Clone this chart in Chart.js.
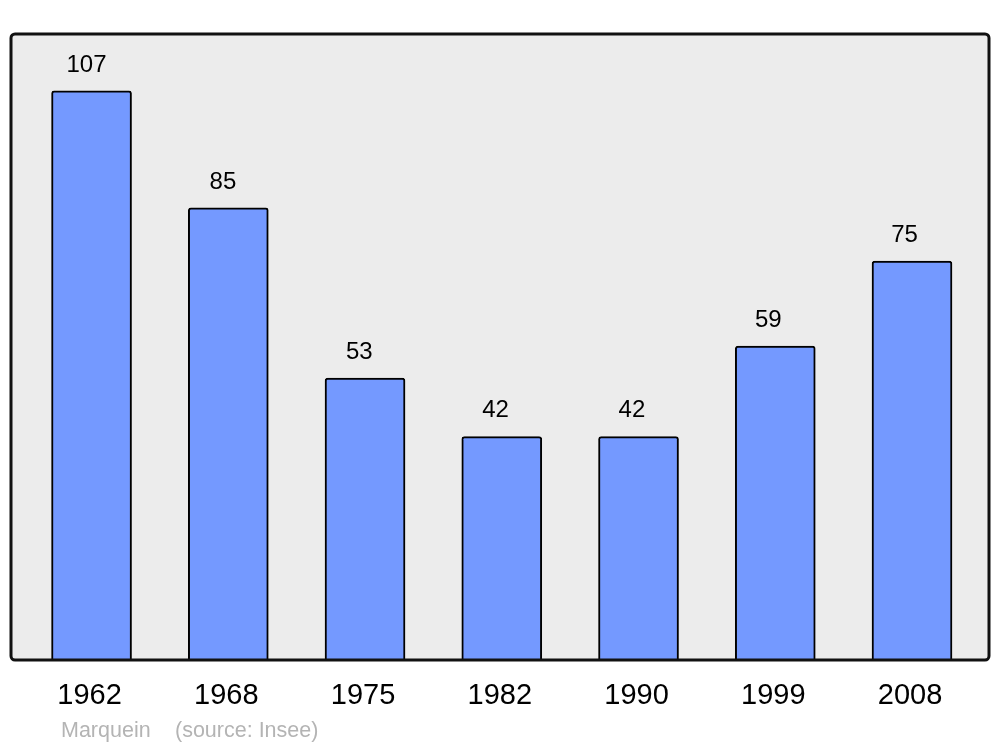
<!DOCTYPE html>
<html lang="fr">
<head>
    <meta charset="UTF-8">
    <title>Marquein - population</title>
    <script src="https://cdn.jsdelivr.net/npm/chart.js"></script>
    <style>
        body { margin: 0; background: #fff; }
        canvas { display: block; }
    </style>
</head>
<body>
    <canvas id="popChart" width="1000" height="747"></canvas>

    <script>
        // données (recensements Insee)
        const years = ['1962', '1968', '1975', '1982', '1990', '1999', '2008'];
        const population = [107, 85, 53, 42, 42, 59, 75];
        const commune = 'Marquein';
        const source = '(source: Insee)';

        // fond gris + cadre arrondi derrière les barres
        const frame = {
            id: 'frame',
            beforeDatasetsDraw(chart) {
                const { ctx, chartArea: a } = chart;
                ctx.save();
                ctx.beginPath();
                ctx.roundRect(a.left, a.top, a.right - a.left, a.bottom - a.top, 4);
                ctx.fillStyle = '#ececec';
                ctx.fill();
                ctx.restore();
            },
            afterDatasetsDraw(chart) {
                const { ctx, chartArea: a } = chart;
                ctx.save();
                ctx.beginPath();
                ctx.roundRect(a.left, a.top, a.right - a.left, a.bottom - a.top, 4);
                ctx.lineWidth = 3;
                ctx.strokeStyle = '#111';
                ctx.stroke();
                ctx.restore();
            }
        };

        // étiquettes : valeurs au-dessus des barres, années dessous, source
        const labels = {
            id: 'labels',
            afterDraw(chart) {
                const { ctx, chartArea: a } = chart;
                const xs = chart.scales.x;
                const meta = chart.getDatasetMeta(0);
                ctx.save();
                ctx.fillStyle = '#000';
                ctx.textAlign = 'center';
                ctx.textBaseline = 'middle';
                ctx.font = '24px "Liberation Sans", Arial, sans-serif';
                meta.data.forEach((bar, i) => {
                    ctx.fillText(String(population[i]), bar.x - 5 - i * 0.4, bar.y - 26);
                });
                ctx.font = '29px "Liberation Sans", Arial, sans-serif';
                years.forEach((y, i) => {
                    ctx.fillText(y, xs.getPixelForValue(i) - 2, a.bottom + 36);
                });
                ctx.fillStyle = '#b4b4b4';
                ctx.textAlign = 'left';
                ctx.font = '21.5px "Liberation Sans", Arial, sans-serif';
                ctx.fillText(commune, 61, a.bottom + 71);
                ctx.fillText(source, 175, a.bottom + 71);
                ctx.restore();
            }
        };

        const ctx = document.getElementById('popChart').getContext('2d');
        const popChart = new Chart(ctx, {
            type: 'bar',
            data: {
                datasets: [{
                    data: population.map((v, i) => ({ x: i, y: v })),
                    backgroundColor: '#7499ff',
                    borderColor: '#000',
                    borderWidth: 2,
                    borderSkipped: 'bottom',
                    borderRadius: { topLeft: 3, topRight: 3, bottomLeft: 0, bottomRight: 0 },
                    barThickness: 80
                }]
            },
            options: {
                responsive: false,
                animation: false,
                layout: { padding: { left: 11, right: 11, top: 34, bottom: 87 } },
                plugins: {
                    legend: { display: false },
                    tooltip: { enabled: false }
                },
                scales: {
                    x: { type: 'linear', min: -0.589, max: 6.563, offset: false, display: false },
                    y: { min: 0, max: 117.7, display: false }
                }
            },
            plugins: [frame, labels]
        });
    </script>
</body>
</html>
